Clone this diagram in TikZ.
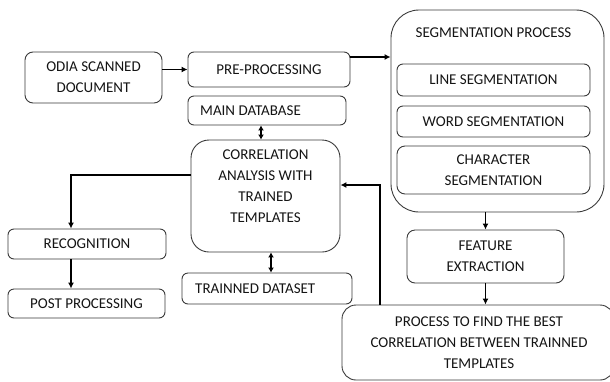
\documentclass[tikz,border=0pt]{standalone}
\usepackage{fontspec}
\setmainfont{Carlito}
\usetikzlibrary{arrows.meta,calc}
\definecolor{bord}{HTML}{3A3A3A}
\definecolor{txt}{HTML}{141414}
\tikzset{
  box/.style={draw=bord, line width=0.9pt, rounded corners=#1, align=center, inner sep=0pt, text=txt, font=\fontsize{15}{21}\selectfont},
  box/.default=6pt,
  lbl/.style={text=txt, font=\fontsize{15}{21}\selectfont, align=center, inner sep=0pt},
  arr/.style={draw=black, line width=1.2pt, -{Latex[length=6pt,width=6pt]}},
  darr/.style={draw=black, line width=1.2pt, {Latex[length=5pt,width=6pt]}-{Latex[length=5pt,width=6pt]}},
  plain/.style={draw=black, line width=1.2pt}
}
\begin{document}
\begin{tikzpicture}[x=1pt,y=-1pt]
\useasboundingbox (0,0) rectangle (610,381);
\clip (0,0) rectangle (610,381);
\node[box=8pt, minimum width=137pt, minimum height=51pt] (odia) at (93.5,77.5) {ODIA SCANNED\\DOCUMENT};
\node[box, minimum width=162pt, minimum height=35pt] (pre) at (269,69.5) {PRE-PROCESSING};
\node[box, minimum width=158pt, minimum height=29pt] (maindb) at (267,110.5) {};
\node[lbl, anchor=west] (maindbt) at (200,110.5) {MAIN DATABASE};
\node[box=18pt, minimum width=149pt, minimum height=112pt] (corr) at (265.5,196) {};
\node[lbl] (corrt) at (265.5,186) {CORRELATION\\ANALYSIS WITH\\TRAINED\\TEMPLATES};
\node[box=28pt, minimum width=213pt, minimum height=202pt] (seg) at (497.5,111) {};
\node[lbl] (segt) at (493.5,33) {SEGMENTATION PROCESS};
\node[box, minimum width=193pt, minimum height=32pt] (line) at (493.5,80) {LINE SEGMENTATION};
\node[box, minimum width=193pt, minimum height=31pt] (word) at (493.5,121.5) {WORD SEGMENTATION};
\node[box=8pt, minimum width=193pt, minimum height=48pt] (char) at (493.5,170) {CHARACTER\\SEGMENTATION};
\node[box=8pt, minimum width=157pt, minimum height=53pt] (feat) at (485.5,256.5) {FEATURE\\EXTRACTION};
\node[box, minimum width=158pt, minimum height=30pt] (recog) at (87,244) {RECOGNITION};
\node[box, minimum width=157pt, minimum height=29pt] (post) at (86.5,303.5) {POST PROCESSING};
\node[box, minimum width=170pt, minimum height=31pt] (train) at (267,288.5) {};
\node[lbl, anchor=west] (traint) at (195,288.5) {TRAINNED DATASET};
\node[box=14pt, minimum width=272pt, minimum height=75pt] (proc) at (478,342.5) {};
\node[lbl] (proct) at (479,343) {PROCESS TO FIND THE BEST\\CORRELATION BETWEEN TRAINNED\\TEMPLATES};
% helper coordinates
\coordinate (p1) at (350,57);
\coordinate (c71) at (71,0);
\coordinate (c175) at (0,175);
\coordinate (c261) at (261,0);
\coordinate (c271) at (271,0);
\coordinate (fb) at (380,0);
\coordinate (fbt) at (0,185);
% connectors
\draw[arr] (odia.east |- pre.west) -- (pre.west);
\draw[arr] (p1) -- (p1 -| seg.west);
\draw[darr] (maindb.south -| c261) -- (corr.north -| c261);
\draw[darr] (corr.south -| c271) -- (train.north -| c271);
\draw[arr] (corr.west |- c175) -| (recog.north -| c71);
\draw[arr] (recog.south -| c71) -- (post.north -| c71);
\draw[arr] (seg.south -| feat.north) -- (feat.north);
\draw[arr] (feat.south) -- (feat.south |- proc.north);
\draw[arr] (proc.north -| fb) |- (corr.east |- fbt);
\end{tikzpicture}
\end{document}
